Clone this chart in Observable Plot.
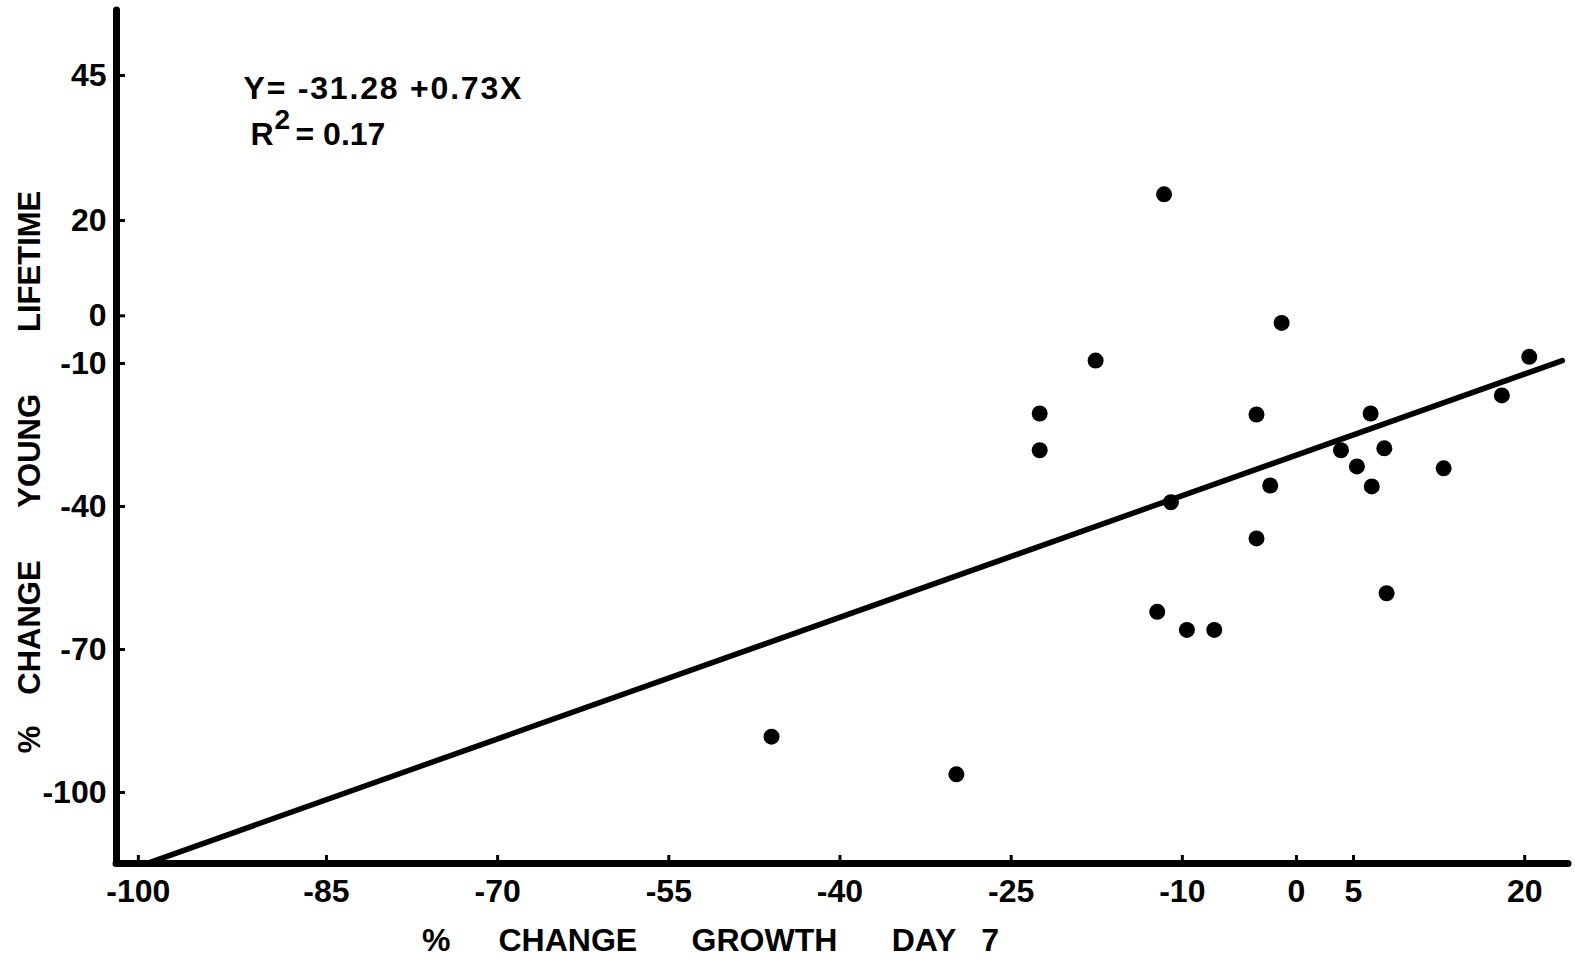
<!DOCTYPE html>
<html><head><meta charset="utf-8">
<script src="https://cdn.jsdelivr.net/npm/d3@7"></script>
<script src="https://cdn.jsdelivr.net/npm/@observablehq/plot@0.6"></script>
<style>
html,body{margin:0;padding:0;background:#fff;}
#chart svg{display:block;}
</style></head><body><div id="chart"></div>
<script>
// % change growth, day 7 (x) and % change young lifetime (y), one value per culture
const growthDay7    = [-11.6, -1.3, -17.6, 20.4, -22.5, -3.5, 6.5, 18.0, -22.5, 3.9, 7.7, 5.3, 12.9, -2.3, 6.6, -11.0, -3.5, 7.9, -12.2, -9.6, -7.2, -46.0, -29.8];
const youngLifetime = [24.5, -1.5, -9.4, -8.6, -20.5, -20.7, -20.5, -16.7, -28.2, -28.2, -27.8, -31.6, -32.0, -35.6, -35.8, -39.1, -46.7, -58.2, -62.1, -65.9, -65.9, -88.3, -96.2];

// regression line as drawn in the figure (end points)
const fitLineX = [-99.0, 23.3];
const fitLineY = [-114.6, -9.4];

const xTicks = [-100, -85, -70, -55, -40, -25, -10, 0, 5, 20];
const yTicks = [45, 20, 0, -10, -40, -70, -100];

const equationText = "Y= -31.28 +0.73X";
const r2Letter = "R";
const r2Power = "2";
const r2Value = "= 0.17";
const xTitle = "%\u2003\u2002CHANGE\u2003\u2002\u2009GROWTH\u2003\u2002\u2009DAY\u2002 7";
const yTitle = "%\u2003CHANGE\u2003\u2002\u2009YOUNG\u2003\u2003LIFETIME";

// the hand-drawn axes are not uniform: y is stretched above 20, x below -85
const yBreak = 20, yStretch = 5.8 / 4.767;
const xBreak = -85, xStretch = 1.099;
const yWarp = v => v <= yBreak ? v : yBreak + (v - yBreak) * yStretch;
const yUnwarp = w => w <= yBreak ? w : yBreak + (w - yBreak) / yStretch;
const xWarp = v => v >= xBreak ? v : xBreak + (v - xBreak) * xStretch;
const xUnwarp = w => w >= xBreak ? w : xBreak + (w - xBreak) / xStretch;
const xDomain = [-103.4, 23.84];  // warped units
const yDomain = [-114.9, 64.05];  // warped units

const points = growthDay7.map((x, i) => ({x, y: youngLifetime[i]}));
const fitLine = fitLineX.map((x, i) => ({x, y: fitLineY[i]}));

const W = 1575, H = 968;
const M = {top: 10, right: 7, bottom: 105, left: 116};
const font = "'Liberation Sans', Arial, sans-serif";

const chart = Plot.plot({
  width: W, height: H,
  marginTop: M.top, marginRight: M.right, marginBottom: M.bottom, marginLeft: M.left,
  style: {fontFamily: font, fontSize: "32px", fontWeight: "bold", color: "black", background: "white"},
  x: {domain: xDomain, transform: xWarp},
  y: {domain: yDomain, transform: yWarp},
  marks: [
    Plot.axisX(xTicks, {tickSize: -8, tickPadding: 24, strokeWidth: 3, tickFormat: d => String(d), label: null}),
    Plot.axisY(yTicks, {tickSize: -9, tickPadding: 19, strokeWidth: 3, tickFormat: d => String(d), label: null}),
    Plot.ruleX([xUnwarp(xDomain[0])], {strokeWidth: 7, strokeLinecap: "round"}),
    Plot.ruleY([yUnwarp(yDomain[0])], {strokeWidth: 7, strokeLinecap: "round"}),
    Plot.line(fitLine, {x: "x", y: "y", strokeWidth: 5.5, stroke: "black"}),
    Plot.dot(points, {x: "x", y: "y", r: 8, fill: "black", stroke: null}),
    Plot.text([equationText], {frameAnchor: "top-left", textAnchor: "start", lineAnchor: "middle", dx: 127, dy: 78, fontSize: 32}),
    Plot.text([r2Letter], {frameAnchor: "top-left", textAnchor: "start", lineAnchor: "middle", dx: 134, dy: 124, fontSize: 32}),
    Plot.text([r2Power], {frameAnchor: "top-left", textAnchor: "start", lineAnchor: "middle", dx: 158, dy: 110, fontSize: 28}),
    Plot.text([r2Value], {frameAnchor: "top-left", textAnchor: "start", lineAnchor: "middle", dx: 179, dy: 124, fontSize: 32}),
    Plot.text([xTitle], {frameAnchor: "bottom", textAnchor: "middle", lineAnchor: "middle", dx: -132, dy: 77, fontSize: 32}),
    Plot.text([yTitle], {frameAnchor: "left", textAnchor: "middle", lineAnchor: "middle", rotate: -90, dx: -86, dy: 35, fontSize: 31})
  ]
});
d3.select(chart).selectAll("text")
  .filter(function() { return this.textContent === equationText; })
  .attr("letter-spacing", 1.8);
document.getElementById("chart").appendChild(chart);
</script>
</body></html>
